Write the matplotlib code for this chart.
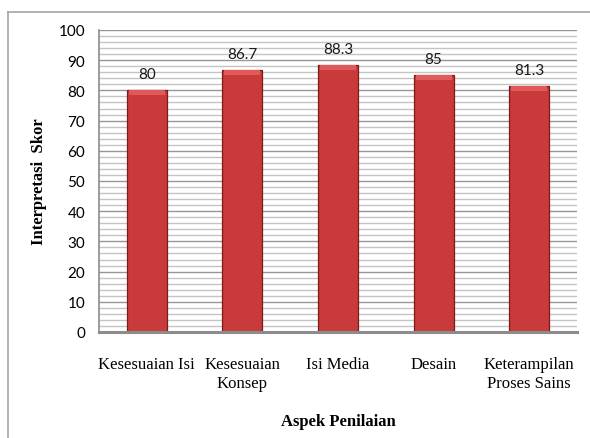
import matplotlib
matplotlib.use("Agg")
import matplotlib.pyplot as plt
from matplotlib.lines import Line2D
import numpy as np

categories = ["Kesesuaian Isi", "Kesesuaian\nKonsep", "Isi Media", "Desain", "Keterampilan\nProses Sains"]
values = [80, 86.7, 88.3, 85, 81.3]
value_labels = ["80", "86.7", "88.3", "85", "81.3"]
yticks = [0, 10, 20, 30, 40, 50, 60, 70, 80, 90, 100]

fig = plt.figure(figsize=(5.9, 4.39), dpi=100)
W, H = 590, 439
ax = fig.add_axes([99 / W, 1 - 333 / H, (577 - 99) / W, (333 - 31) / H])

# outer frame (chart area border)
fig.add_artist(Line2D([8 / W, 8 / W], [0, 1 - 13 / H], transform=fig.transFigure, color="#a6a6a6", lw=1.2))
fig.add_artist(Line2D([8 / W, 1], [1 - 13 / H, 1 - 13 / H], transform=fig.transFigure, color="#a6a6a6", lw=1.2))

x = np.arange(len(categories))
ax.set_xlim(-0.5, len(categories) - 0.5)
ax.set_ylim(0, 100)

# grid
ax.set_yticks(yticks)
ax.set_yticks(np.arange(0, 101, 2), minor=True)
ax.yaxis.grid(True, which="minor", color="#c4c4c4", lw=1.0)
ax.yaxis.grid(True, which="major", color="#969696", lw=1.0)
ax.set_axisbelow(True)

# bars with shading
bw = 0.42
ax.bar(x, values, width=bw, color="#c93a3a", edgecolor="#7d1a1a", linewidth=0.9, zorder=3)
ax.bar(x, [1.6] * len(values), bottom=[v - 1.6 for v in values], width=bw * 0.9,
       color="#e05a5a", edgecolor="none", zorder=4)

for xi, v, lab in zip(x, values, value_labels):
    ax.text(xi, v + 3.0, lab, ha="center", va="bottom", fontsize=11, family="Lato", color="#1a1a1a")

for s in ["top", "right"]:
    ax.spines[s].set_visible(False)
ax.spines["left"].set_color("#8c8c8c")
ax.spines["left"].set_linewidth(1.2)
ax.spines["bottom"].set_color("#8c8c8c")
ax.spines["bottom"].set_linewidth(2.2)
ax.spines["bottom"].set_zorder(5)

ax.set_xticks(x)
ax.set_xticklabels(categories, family="Liberation Serif", fontsize=12, linespacing=1.3)
ax.tick_params(axis="x", length=0, pad=17)
ax.tick_params(axis="y", which="both", length=0, pad=10)
for t in ax.get_yticklabels():
    t.set_family("Lato")
    t.set_fontsize(11)

ax.set_xlabel("Aspek Penilaian", family="Liberation Serif", fontweight="bold", fontsize=12, labelpad=16)
ax.set_ylabel("Interpretasi  Skor", family="Liberation Serif", fontweight="bold", fontsize=12)
ax.yaxis.set_label_coords(-0.109, 0.5)

fig.savefig("out.png", dpi=100)
